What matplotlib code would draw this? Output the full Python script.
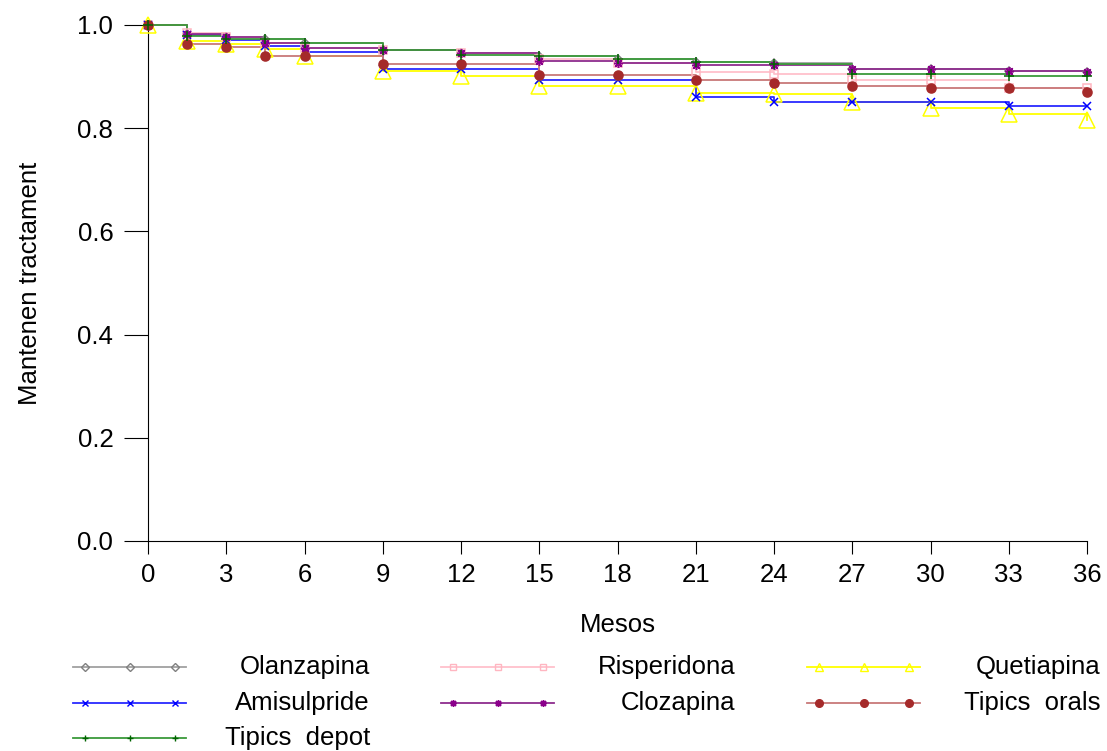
import matplotlib
matplotlib.use("Agg")
import matplotlib.pyplot as plt

plt.rcParams['font.family'] = ['Liberation Sans', 'DejaVu Sans']

# Kaplan-Meier style survival data
meses = [0, 1.5, 3, 4.5, 6, 9, 12, 15, 18, 21, 24, 27, 30, 33, 36]

olanzapina = [1.0, 0.983, 0.976, 0.972, 0.966, 0.952, 0.946, 0.939, 0.934, 0.928, 0.927, 0.915, 0.915, 0.910, 0.909]
risperidona = [1.0, 0.984, 0.976, 0.966, 0.955, 0.952, 0.946, 0.934, 0.926, 0.909, 0.905, 0.894, 0.894, 0.878, 0.877]
quetiapina = [1.0, 0.969, 0.963, 0.953, 0.939, 0.910, 0.901, 0.882, 0.882, 0.869, 0.866, 0.851, 0.839, 0.827, 0.816]
amisulpride = [1.0, 0.980, 0.970, 0.959, 0.947, 0.914, 0.914, 0.893, 0.893, 0.861, 0.851, 0.851, 0.851, 0.843, 0.843]
clozapina = [1.0, 0.983, 0.976, 0.966, 0.955, 0.952, 0.946, 0.931, 0.927, 0.923, 0.922, 0.915, 0.915, 0.910, 0.909]
tipics_orals = [1.0, 0.964, 0.957, 0.939, 0.939, 0.925, 0.925, 0.903, 0.903, 0.894, 0.888, 0.882, 0.877, 0.877, 0.871]
tipics_depot = [1.0, 0.978, 0.972, 0.972, 0.966, 0.952, 0.941, 0.939, 0.934, 0.928, 0.924, 0.906, 0.906, 0.901, 0.901]

x_ticks = [0, 3, 6, 9, 12, 15, 18, 21, 24, 27, 30, 33, 36]
y_ticks = [0.0, 0.2, 0.4, 0.6, 0.8, 1.0]

asterisk = (8, 2, 0)  # "+" and "x" together, like R's pch 8

# name, values, line colour, marker colour, marker, plot size, legend size, filled
series = [
    ("Olanzapina", olanzapina, "#a0a0a0", "#808080", "D", 4.5, 4, False),
    ("Risperidona", risperidona, "#ffc0cb", "#ffb6c1", "s", 6, 5, False),
    ("Quetiapina", quetiapina, "#ffff00", "#ffff00", "^", 11, 5.5, False),
    ("Amisulpride", amisulpride, "#2a2aff", "#0000ff", "x", 6, 5, False),
    ("Clozapina", clozapina, "#8e2c8e", "#8b008b", asterisk, 6.5, 5, False),
    ("Tipics  orals", tipics_orals, "#c87878", "#a52a2a", "o", 6.5, 5.5, True),
    ("Tipics  depot", tipics_depot, "#3a9a3a", "#006400", "+", 7, 5, False),
]

fig = plt.figure(figsize=(11.07, 7.51), dpi=100)
ax = fig.add_axes([148 / 1107, 1 - 541 / 751, 939 / 1107, 516 / 751])

for name, vals, lc, mc, mk, ms, _, filled in series:
    ax.plot(meses, vals, drawstyle="steps-post", color=lc, lw=1.3, clip_on=False, zorder=2)
    ax.plot(meses, vals, ls="none", marker=mk, ms=ms, mec=mc,
            mfc=mc if filled else "none", mew=1.1, clip_on=False, zorder=3)

ax.set_xlim(0, 36)
ax.set_ylim(0, 1)
ax.set_xticks(x_ticks)
ax.set_yticks(y_ticks)
ax.set_yticklabels([f"{v:.1f}" for v in y_ticks])
for s in ["top", "right"]:
    ax.spines[s].set_visible(False)
for s in ["left", "bottom"]:
    ax.spines[s].set_linewidth(0.8)
ax.tick_params(axis="x", length=9.5, width=0.8, pad=6, labelsize=18.5)
ax.tick_params(axis="y", length=17, width=0.8, pad=8, labelsize=18.5)

ax.set_xlabel("Mesos", fontsize=18.5)
ax.xaxis.set_label_coords(0.5, -(625 - 541) / 516)
ax.xaxis.label.set_va("center")
ax.set_ylabel("Mantenen tractament", fontsize=18.5)
ax.yaxis.set_label_coords((30 - 148) / 939, 0.5)
ax.yaxis.label.set_va("center")

# legend drawn below the plot in three columns, labels right aligned
lax = fig.add_axes([0, 0, 1, 1])
lax.set_xlim(0, 1107)
lax.set_ylim(751, 0)
lax.axis("off")

col_left = [73, 441, 807]
col_text_right = [370, 735, 1100]
row_y = [667, 703, 738]
order = [(0, 0), (1, 0), (2, 0), (0, 1), (1, 1), (2, 1), (0, 2)]

for (name, vals, lc, mc, mk, _, lms, filled), (c, r) in zip(series, order):
    x0 = col_left[c]
    y = row_y[r]
    lax.plot([x0, x0 + 113], [y, y], color=lc, lw=1.3)
    lax.plot([x0 + 12, x0 + 57, x0 + 102], [y, y, y], ls="none", marker=mk, ms=lms,
             mec=mc, mfc=mc if filled else "none", mew=1.0)
    lax.text(col_text_right[c], y, name, ha="right", va="center", fontsize=18.5)

fig.savefig("out.png", dpi=100)
